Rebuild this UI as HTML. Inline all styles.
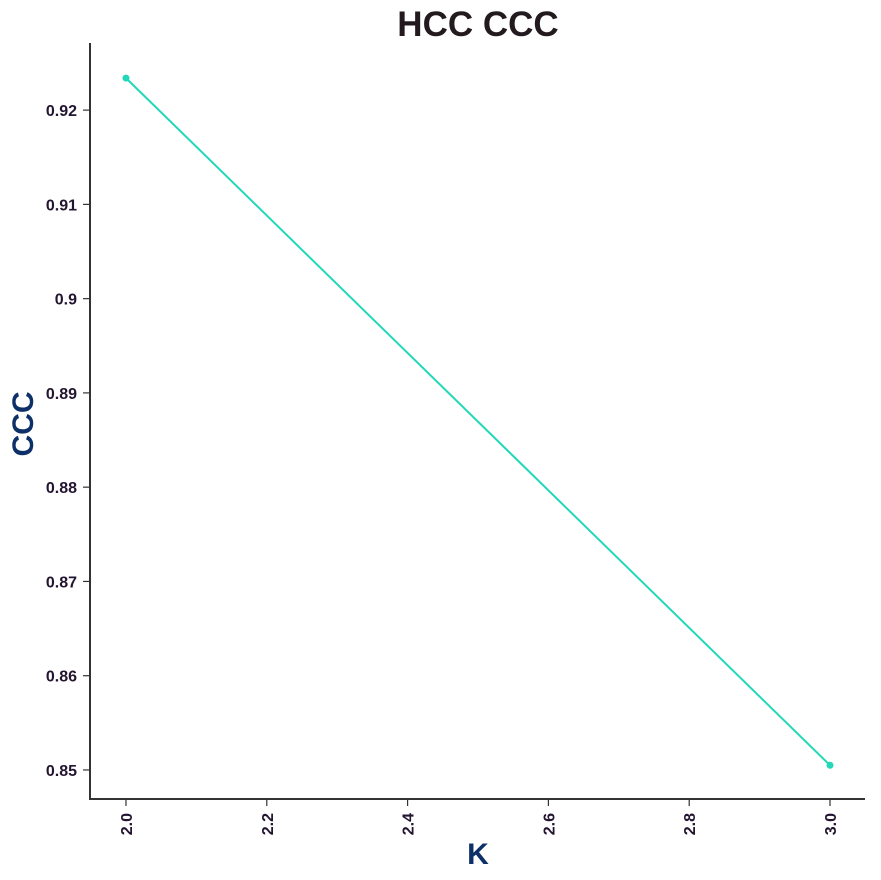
<!DOCTYPE html>
<html><head><meta charset="utf-8"><style>
body{margin:0;background:#fff}
svg{display:block;font-family:"Liberation Sans",sans-serif}
</style></head><body>
<svg id="chart" width="881" height="880">
<text x="478" y="36" text-anchor="middle" font-size="35" font-weight="bold" fill="#231a1f">HCC CCC</text>
<text x="478" y="864" text-anchor="middle" font-size="30" font-weight="bold" fill="#0d3068">K</text>
<text transform="translate(33,424) rotate(-90)" text-anchor="middle" font-size="30" font-weight="bold" fill="#0d3068">CCC</text>
<g id="axes"></g>
<g id="marks"></g>
</svg>
<script>
const xValues=[2,3];
const yValues=[0.9234,0.8505];
const xTicks=[2.0,2.2,2.4,2.6,2.8,3.0];
const xTickLabels=["2.0","2.2","2.4","2.6","2.8","3.0"];
const yTicks=[0.85,0.86,0.87,0.88,0.89,0.9,0.91,0.92];
const yTickLabels=["0.85","0.86","0.87","0.88","0.89","0.9","0.91","0.92"];
const NS="http://www.w3.org/2000/svg";
const L=90,R=865,T=43,B=799;
const xMin=1.9489,xMax=3.0497,yMin=0.84692,yMax=0.92712;
const xs=v=>L+(v-xMin)/(xMax-xMin)*(R-L);
const ys=v=>B-(v-yMin)/(yMax-yMin)*(B-T);
function mk(tag,attrs,parent){const e=document.createElementNS(NS,tag);for(const k in attrs)e.setAttribute(k,attrs[k]);parent.appendChild(e);return e;}
const axes=document.getElementById('axes'),marks=document.getElementById('marks');
let e=mk('line',{x1:L,y1:T,x2:L,y2:B+1,stroke:'#333',"stroke-width":2},axes);


e=mk('line',{x1:L-1,y1:B,x2:R,y2:B,stroke:'#333',"stroke-width":2},axes);


yTicks.forEach((v,i)=>{const y=ys(v);
 let t=mk('line',{x1:L-7,y1:y,x2:L,y2:y,stroke:'#333',"stroke-width":1.2},axes);
 
 
 let tx=mk('text',{x:L-13,y:y+6,"text-anchor":"end","font-size":16,"font-weight":"bold",fill:"#231530"},axes);
 tx.textContent=yTickLabels[i];
 
 
});
xTicks.forEach((v,i)=>{const x=xs(v);
 let t=mk('line',{x1:x,y1:B,x2:x,y2:B+7,stroke:'#333',"stroke-width":1.2},axes);
 
 
 let tx=mk('text',{transform:`translate(${x+6},${B+14}) rotate(-90)`,"text-anchor":"end","font-size":16,"font-weight":"bold",fill:"#231530"},axes);
 tx.textContent=xTickLabels[i];
 
 
});
const pts=xValues.map((v,i)=>xs(v)+','+ys(yValues[i])).join(' ');
e=mk('polyline',{points:pts,fill:'none',stroke:'#22d8b8',"stroke-width":2},marks);


xValues.forEach((v,i)=>{
 let c=mk('circle',{cx:xs(v),cy:ys(yValues[i]),r:3.5,fill:'#22d8b8'},marks);
 
 
});
</script>
</body></html>
